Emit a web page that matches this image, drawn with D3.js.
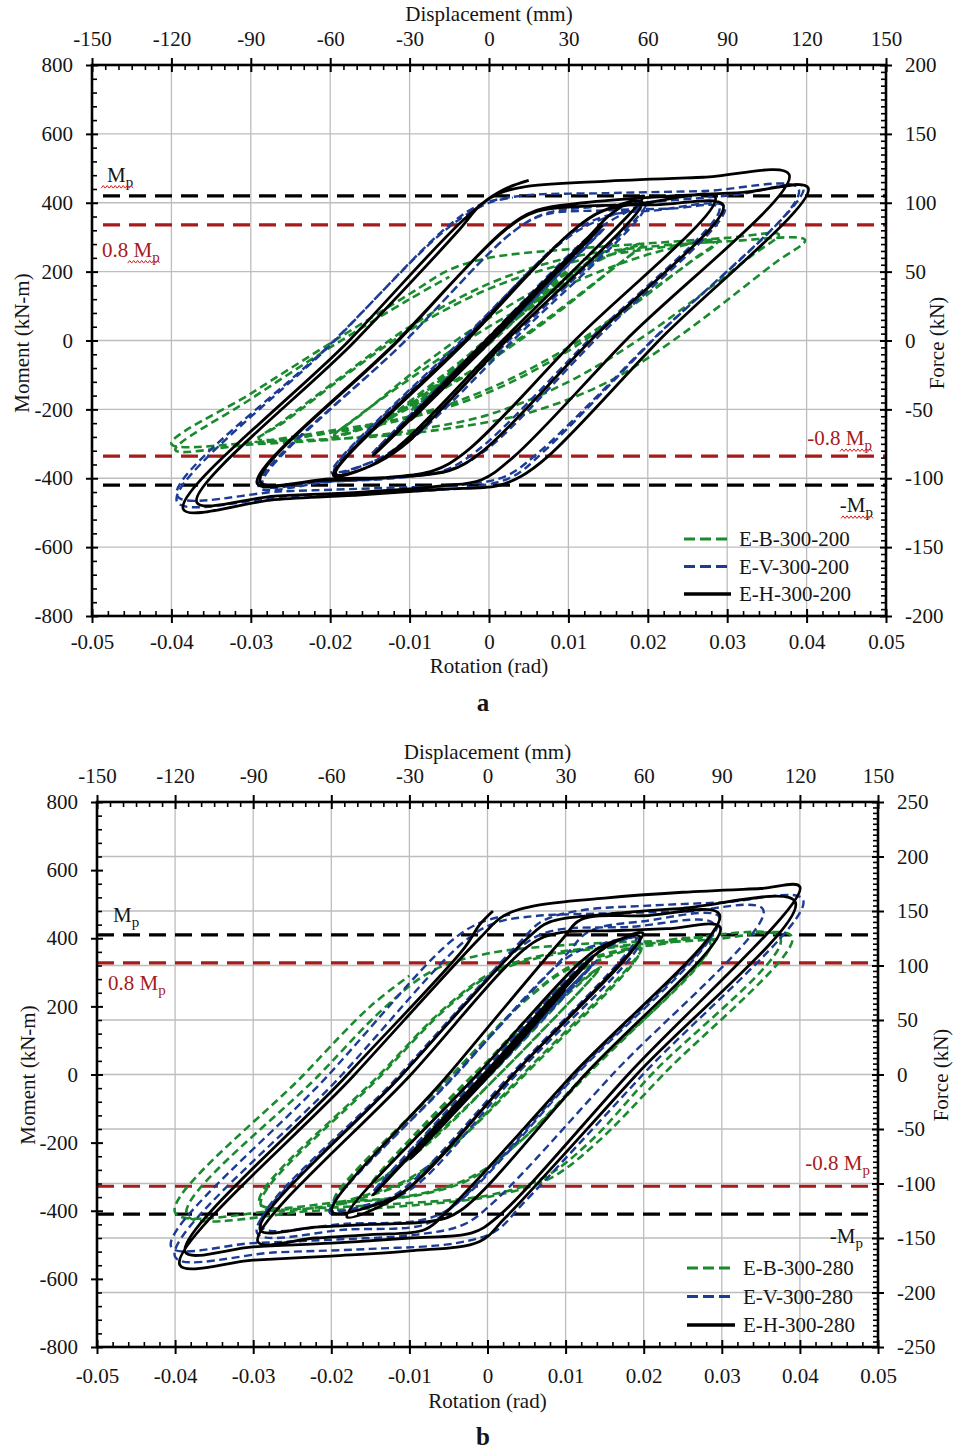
<!DOCTYPE html>
<html><head><meta charset="utf-8">
<script src="https://cdn.jsdelivr.net/npm/d3@7"></script>
<style>
body{margin:0;background:#fff}
svg text{font-family:"Liberation Serif","Times New Roman",serif;fill:#151515}
</style>
</head><body>
<svg id="c" width="960" height="1450"></svg>
<script>
// ---------- tick labels / categories ----------
const rotTicks=[-0.05,-0.04,-0.03,-0.02,-0.01,0,0.01,0.02,0.03,0.04,0.05];
const dispTicks=[-150,-120,-90,-60,-30,0,30,60,90,120,150];
const momentTicks=[-800,-600,-400,-200,0,200,400,600,800];
const forceTicksA=[-200,-150,-100,-50,0,50,100,150,200];
const forceTicksB=[-250,-200,-150,-100,-50,0,50,100,150,200,250];
const namesA=["E-B-300-200","E-V-300-200","E-H-300-200"];
const namesB=["E-B-300-280","E-V-300-280","E-H-300-280"];
const MpA=420, MpB=410;

// ---------- series (rotation rad, moment kN-m) ----------
const aBlack=[
[0,0],[0.005,118],[0.0003,4],[-0.005,-116],[-0.0003,-4],
[0.0075,176],[0.0005,8],[-0.0075,-175],[-0.0005,-8],
[0.0099,234],[0.0008,12],[-0.0099,-232],[-0.0008,-12],
[0.0142,332],[0.0003,4],[-0.0146,-334],[-0.0004,-6],
[0.014,330],[0.0004,6],[-0.0145,-332],
[-0.0004,0],[0.0125,300],[0.0155,370],[0.0195,420],
[0.0017,0],[-0.0115,-310],[-0.0155,-370],[-0.0196,-392],
[-0.003,0],[0.0105,318],[0.0145,378],[0.0193,402],
[0.0022,0],[-0.011,-310],[-0.015,-365],[-0.0193,-388],
[-0.0028,0],[0.0105,318],[0.0145,378],[0.020,400],[0.0285,416],
[0.0108,0],[-0.003,-325],[-0.007,-378],[-0.013,-398],[-0.021,-406],[-0.0292,-415],
[-0.0115,0],[0.002,320],[0.006,375],[0.012,390],[0.021,394],[0.0295,393],
[0.0128,0],[-0.001,-325],[-0.005,-378],[-0.011,-395],[-0.020,-402],[-0.0288,-410],
[-0.0114,0],[0.002,322],[0.006,378],[0.012,400],[0.022,418],[0.032,430],[0.0402,443],
[0.0214,0],[0.0075,-335],[0.004,-395],[0.001,-422],[-0.006,-432],[-0.016,-448],[-0.027,-462],[-0.0385,-490],
[-0.0176,0],[-0.003,355],[0.001,425],[0.005,448],[0.015,463],[0.027,474],[0.0378,482],
[0.0172,0],[0.003,-340],[-0.001,-405],[-0.006,-422],[-0.016,-440],[-0.027,-452],[-0.0368,-470],
[-0.0168,0],[-0.004,315],[-0.001,395],[0.002,440],[0.005,465]
];
const aBlue=[
[0,0],[0.005,115],[0.0002,3],[-0.005,-113],[-0.0002,-3],
[0.0075,172],[0.0004,6],[-0.0075,-170],[-0.0004,-6],
[0.0099,228],[0.0006,10],[-0.0099,-226],[-0.0006,-10],
[0.0145,325],[0.0008,10],[-0.0148,-330],[-0.0006,-4],
[0.0143,322],[0.0005,6],[-0.0146,-326],
[-0.0005,0],[0.012,290],[0.0155,350],[0.0197,392],
[0.0025,0],[-0.011,-300],[-0.015,-355],[-0.0198,-385],
[-0.0035,0],[0.010,300],[0.0145,355],[0.0195,385],
[0.003,0],[-0.0105,-300],[-0.0145,-350],[-0.0195,-380],
[-0.0033,0],[0.010,305],[0.0145,360],[0.021,378],[0.0297,388],
[0.0133,0],[-0.0005,-320],[-0.005,-375],[-0.012,-400],[-0.020,-410],[-0.029,-425],
[-0.0105,0],[0.003,315],[0.007,365],[0.015,378],[0.023,383],[0.029,385],
[0.0125,0],[-0.0015,-320],[-0.006,-380],[-0.013,-400],[-0.021,-410],[-0.0285,-418],
[-0.0105,0],[0.003,315],[0.007,368],[0.013,388],[0.022,405],[0.031,423],[0.0396,446],
[0.0206,0],[0.007,-320],[0.003,-395],[-0.002,-425],[-0.012,-440],[-0.025,-452],[-0.0393,-468],
[-0.0194,0],[-0.005,335],[-0.001,395],[0.004,420],[0.015,428],[0.027,434],[0.039,440],
[0.0205,0],[0.006,-330],[0.002,-395],[-0.003,-418],[-0.013,-428],[-0.026,-438],[-0.0393,-450],
[-0.0195,0],[-0.005,330],[0.0,400],[0.003,415]
];
const aGreen=[
[0,0],[0.005,110],[0.0003,4],[-0.005,-108],[-0.0003,-4],
[0.0075,160],[0.0006,8],[-0.0075,-158],[-0.0006,-8],
[0.0099,205],[0.0012,14],[-0.0099,-204],[-0.0012,-14],
[0.0145,262],[0.011,200],[0.002,40],[-0.006,-120],[-0.0148,-262],
[-0.011,-200],[-0.002,-40],[0.006,120],[0.0145,258],
[0.011,195],[0.002,35],[-0.006,-125],[-0.0147,-260],
[-0.011,-195],[-0.003,-50],[0.004,80],[0.010,180],[0.015,245],[0.0195,282],
[0.0165,225],[0.008,70],[0.0,-60],[-0.008,-170],[-0.014,-240],[-0.0198,-280],
[-0.0165,-222],[-0.008,-65],[0.0,65],[0.008,172],[0.014,238],[0.0193,276],
[0.0162,220],[0.008,75],[0.0,-55],[-0.008,-165],[-0.014,-235],[-0.0195,-276],
[-0.0165,-220],[-0.008,-80],[0.0,40],[0.008,140],[0.015,210],[0.022,262],[0.029,292],
[0.026,240],[0.018,100],[0.010,-30],[0.0,-150],[-0.010,-225],[-0.020,-268],[-0.0295,-292],
[-0.026,-240],[-0.018,-100],[-0.010,30],[0.0,150],[0.010,225],[0.020,265],[0.0285,282],
[0.0255,230],[0.018,105],[0.010,-20],[0.0,-140],[-0.010,-220],[-0.020,-262],[-0.029,-286],
[-0.026,-235],[-0.018,-95],[-0.010,40],[0.0,165],[0.010,240],[0.020,272],[0.030,288],[0.0398,292],
[0.036,225],[0.0232,0],[0.015,-120],[0.005,-210],[-0.005,-255],[-0.015,-280],[-0.027,-292],[-0.040,-300],
[-0.030,-154],[-0.020,-8],[-0.010,135],[-0.005,205],[0.0,240],[0.010,265],[0.020,282],[0.030,298],[0.0365,308],
[0.033,245],[0.020,20],[0.010,-120],[0.0,-215],[-0.010,-262],[-0.020,-288],[-0.030,-302],[-0.0395,-318],
[-0.030,-170],[-0.020,-20],[-0.010,120],[-0.005,185]
];
const bBlack=[
[0,0],[0.005,128],[0.0003,4],[-0.005,-126],[-0.0003,-4],
[0.0075,192],[0.0005,8],[-0.0075,-190],[-0.0005,-8],
[0.0099,250],[0.0008,12],[-0.0099,-248],[-0.0008,-12],
[0.0135,345],[-0.0003,0],[-0.0147,-355],[-0.0005,0],
[0.0133,340],[-0.0002,0],[-0.0145,-350],
[-0.0005,0],[0.0127,330],[0.016,385],[0.0199,415],
[0.0033,0],[-0.0099,-330],[-0.014,-390],[-0.018,-418],
[-0.0013,0],[0.0119,330],[0.015,380],[0.0195,405],
[0.0033,0],[-0.0099,-330],[-0.014,-380],[-0.0199,-403],
[-0.005,0],[0.0095,395],[0.012,455],[0.02,466],[0.0297,470],
[0.0109,0],[-0.0051,-400],[-0.008,-455],[-0.015,-470],[-0.022,-480],[-0.0294,-491],
[-0.0098,0],[0.0054,380],[0.009,415],[0.016,422],[0.023,428],[0.0298,432],
[0.0125,0],[-0.0035,-400],[-0.007,-430],[-0.015,-440],[-0.022,-448],[-0.0291,-456],
[-0.0109,0],[0.0051,400],[0.008,448],[0.015,470],[0.025,488],[0.0394,507],
[0.0191,0],[0.0023,-420],[-0.001,-490],[-0.01,-518],[-0.02,-533],[-0.03,-545],[-0.0394,-559],
[-0.017,0],[-0.001,400],[0.002,465],[0.006,495],[0.015,518],[0.025,535],[0.035,546],[0.040,551],
[0.018,0],[0.0012,-420],[-0.002,-465],[-0.01,-480],[-0.02,-495],[-0.03,-506],[-0.0387,-521],
[-0.0179,0],[-0.003,370],[-0.001,440],[0.0007,480]
];
const bBlue=[
[0,0],[0.005,125],[0.0003,4],[-0.005,-123],[-0.0003,-4],
[0.0075,188],[0.0005,8],[-0.0075,-186],[-0.0005,-8],
[0.0099,245],[0.0008,12],[-0.0099,-243],[-0.0008,-12],
[0.014,335],[0.0006,5],[-0.0147,-345],[-0.0005,-5],
[0.0138,330],[0.0004,4],[-0.0145,-340],
[-0.0009,0],[0.012,320],[0.015,370],[0.019,401],
[0.003,0],[-0.011,-340],[-0.015,-385],[-0.0202,-406],
[-0.004,0],[0.010,340],[0.014,380],[0.0195,395],
[0.0037,0],[-0.010,-340],[-0.015,-380],[-0.020,-398],
[-0.0041,0],[0.010,350],[0.013,420],[0.02,450],[0.0297,462],
[0.0112,0],[-0.004,-380],[-0.008,-440],[-0.018,-455],[-0.0295,-465],
[-0.0109,0],[0.004,370],[0.008,420],[0.018,433],[0.029,440],
[0.0114,0],[-0.004,-380],[-0.008,-425],[-0.018,-438],[-0.029,-445],
[-0.0112,0],[0.004,385],[0.007,450],[0.012,482],[0.02,495],[0.03,505],[0.0404,513],
[0.0199,0],[0.0045,-380],[0.001,-460],[-0.004,-495],[-0.015,-512],[-0.027,-522],[-0.040,-535],
[-0.0186,0],[-0.003,390],[0.001,445],[0.006,465],[0.015,473],[0.025,478],[0.0353,484],
[0.016,0],[0.001,-370],[-0.003,-440],[-0.009,-470],[-0.02,-485],[-0.030,-495],[-0.0405,-506],
[-0.0203,0],[-0.005,385],[-0.001,445],[0.003,470]
];
const bGreen=[
[0,0],[0.005,120],[0.0003,4],[-0.005,-118],[-0.0003,-4],
[0.0075,178],[0.0006,10],[-0.0075,-176],[-0.0006,-10],
[0.0099,230],[0.001,14],[-0.0099,-228],[-0.001,-14],
[0.008,190],[0.0145,315],
[0.0015,0],[-0.008,-210],[-0.0148,-320],
[-0.0018,0],[0.008,200],[0.0143,312],
[0.0015,0],[-0.009,-225],[-0.0146,-318],
[-0.0016,0],[0.008,230],[0.013,320],[0.0165,355],[0.0197,372],
[0.0045,0],[-0.004,-200],[-0.010,-310],[-0.015,-355],[-0.0197,-377],
[-0.0045,0],[0.004,200],[0.010,305],[0.015,350],[0.0195,366],
[0.0048,0],[-0.004,-200],[-0.010,-305],[-0.015,-350],[-0.0196,-370],
[-0.0045,0],[0.004,200],[0.010,310],[0.016,360],[0.022,382],[0.0288,396],
[0.0128,0],[0.004,-200],[-0.002,-305],[-0.008,-350],[-0.016,-372],[-0.029,-385],
[-0.0135,0],[-0.005,200],[0.001,300],[0.008,350],[0.017,375],[0.0285,388],
[0.0125,0],[0.004,-200],[-0.002,-300],[-0.009,-352],[-0.018,-372],[-0.0292,-378],
[-0.0138,0],[-0.005,205],[0.001,305],[0.008,355],[0.017,378],[0.028,395],[0.039,404],
[0.0225,0],[0.014,-200],[0.008,-305],[0.001,-355],[-0.010,-385],[-0.022,-400],[-0.0385,-412],
[-0.0215,0],[-0.013,200],[-0.007,305],[0.0,355],[0.010,380],[0.022,392],[0.0375,400],
[0.021,0],[0.013,-200],[0.007,-305],[0.0,-355],[-0.012,-380],[-0.025,-395],[-0.040,-405],
[-0.0235,0],[-0.015,200],[-0.010,290]
];

// ---------- styles ----------
const seriesStyle=[
  {color:"#1a8a2e",width:2.6,dash:"8,4.5"},
  {color:"#1c3c94",width:2.4,dash:"8,4.5"},
  {color:"#000000",width:2.8,dash:null}
];
const RED="#a61b1b";

const svg=d3.select("#c");

const panels=[
 {x0:92,x1:886,y0:65,y1:616,fmax:200,fTicks:forceTicksA,Mp:MpA,data:[aGreen,aBlue,aBlack],names:namesA,
  topBase:19,botOff:18,dispTitleY:21,rotTitleY:673,momX:22,forceX:937,titleCY:343,
  refStart:103,lgX0:684,lgX1:731,lgY:539,lgDy:27.5,letter:"a",letterY:711,wavy:true,
  lab:{mp:[15,-14],m08:[10,32],n08:[-14,-11],nmp:[-13,27]}},
 {x0:97,x1:878,y0:802,y1:1347,fmax:250,fTicks:forceTicksB,Mp:MpB,data:[bGreen,bBlue,bBlack],names:namesB,
  topBase:19,botOff:21,dispTitleY:759,rotTitleY:1408,momX:28,forceX:941,titleCY:1075,
  refStart:97,lgX0:687,lgX1:735,lgY:1268,lgDy:28.5,letter:"b",letterY:1445,wavy:false,
  lab:{mp:[16,-13],m08:[11,27],n08:[-8,-16],nmp:[-15,29]}}
];

function styleAxis(sel,fs){
  sel.attr("font-family",null).attr("font-size",null);
  sel.select(".domain").remove();
  sel.selectAll("line").attr("stroke","#000").attr("stroke-width",2);
  sel.selectAll("text").style("font-size",fs+"px").attr("fill","#151515");
}
function minorAxis(g,axisFn,scale,vals,size,tx,ty){
  g.append("g").attr("transform",`translate(${tx},${ty})`)
   .call(axisFn(scale).tickValues(vals).tickSize(size).tickFormat(""))
   .call(s=>{s.select(".domain").remove();s.selectAll("line").attr("stroke","#000").attr("stroke-width",1.6);});
}

panels.forEach((p,pi)=>{
  const g=svg.append("g");
  const x=d3.scaleLinear().domain([-0.05,0.05]).range([p.x0,p.x1]);
  const y=d3.scaleLinear().domain([-800,800]).range([p.y1,p.y0]);
  const xt=d3.scaleLinear().domain([-150,150]).range([p.x0,p.x1]);
  const yr=d3.scaleLinear().domain([-p.fmax,p.fmax]).range([p.y1,p.y0]);

  // grid
  const gg=g.append("g").attr("stroke","#bdbdbd").attr("stroke-width",1.3);
  rotTicks.slice(1,-1).forEach(t=>gg.append("line").attr("x1",x(t)).attr("x2",x(t)).attr("y1",p.y0).attr("y2",p.y1));
  p.fTicks.slice(1,-1).forEach(t=>gg.append("line").attr("x1",p.x0).attr("x2",p.x1).attr("y1",yr(t)).attr("y2",yr(t)));

  // reference lines
  const refs=[[p.Mp,"#000"],[0.8*p.Mp,RED],[-0.8*p.Mp,RED],[-p.Mp,"#000"]];
  refs.forEach(r=>g.append("line").attr("x1",p.refStart).attr("x2",p.x1).attr("y1",y(r[0])).attr("y2",y(r[0]))
     .attr("stroke",r[1]).attr("stroke-width",3.2).attr("stroke-dasharray","17,9"));

  // series
  const clipId="clip"+pi;
  svg.append("defs").append("clipPath").attr("id",clipId).append("rect")
     .attr("x",p.x0).attr("y",p.y0).attr("width",p.x1-p.x0).attr("height",p.y1-p.y0);
  const line=d3.line().x(d=>x(d[0])).y(d=>y(d[1])).curve(d3.curveCatmullRom.alpha(0.5));
  const dg=g.append("g").attr("clip-path",`url(#${clipId})`);
  p.data.forEach((s,i)=>{
    const st=seriesStyle[i];
    dg.append("path").attr("d",line(s)).attr("fill","none").attr("stroke",st.color)
      .attr("stroke-width",st.width).attr("stroke-dasharray",st.dash).attr("stroke-linejoin","round");
  });

  // frame
  g.append("rect").attr("x",p.x0).attr("y",p.y0).attr("width",p.x1-p.x0).attr("height",p.y1-p.y0)
   .attr("fill","none").attr("stroke","#000").attr("stroke-width",2.6);

  const FS=21;
  // left axis
  g.append("g").attr("transform",`translate(${p.x0},0)`)
   .call(d3.axisLeft(y).tickValues(momentTicks).tickSize(6).tickPadding(13).tickFormat(d=>String(d))).call(s=>styleAxis(s,FS));
  g.append("g").attr("transform",`translate(${p.x0},0)`)
   .call(d3.axisRight(y).tickValues(momentTicks).tickSize(6).tickFormat("")).call(s=>styleAxis(s,FS));
  minorAxis(g,d3.axisRight,y,d3.range(-20,21).map(i=>i*40).filter(v=>v%200!==0),5,p.x0,0);
  // right axis
  g.append("g").attr("transform",`translate(${p.x1},0)`)
   .call(d3.axisRight(yr).tickValues(p.fTicks).tickSize(6).tickPadding(13).tickFormat(d=>String(d))).call(s=>styleAxis(s,FS));
  g.append("g").attr("transform",`translate(${p.x1},0)`)
   .call(d3.axisLeft(yr).tickValues(p.fTicks).tickSize(6).tickFormat("")).call(s=>styleAxis(s,FS));
  minorAxis(g,d3.axisLeft,yr,d3.range(-p.fmax/5,p.fmax/5+1).map(i=>i*5).filter(v=>v%50!==0),5,p.x1,0);
  // bottom axis
  g.append("g").attr("transform",`translate(0,${p.y1})`)
   .call(d3.axisBottom(x).tickValues(rotTicks).tickSize(7).tickPadding(p.botOff-7).tickFormat(d=>String(d))).call(s=>styleAxis(s,FS));
  g.append("g").attr("transform",`translate(0,${p.y1})`)
   .call(d3.axisTop(x).tickValues(rotTicks).tickSize(7).tickFormat("")).call(s=>styleAxis(s,FS));
  minorAxis(g,d3.axisTop,x,d3.range(-25,26).filter(i=>i%5!==0).map(i=>i*0.002),5,0,p.y1);
  // top axis
  g.append("g").attr("transform",`translate(0,${p.y0})`)
   .call(d3.axisTop(xt).tickValues(dispTicks).tickSize(7).tickPadding(p.topBase-7).tickFormat(d=>String(d))).call(s=>styleAxis(s,FS));
  g.append("g").attr("transform",`translate(0,${p.y0})`)
   .call(d3.axisBottom(xt).tickValues(dispTicks).tickSize(7).tickFormat("")).call(s=>styleAxis(s,FS));
  minorAxis(g,d3.axisBottom,xt,d3.range(-30,31).filter(i=>i%6!==0).map(i=>i*5),5,0,p.y0);

  // titles
  const cx=(p.x0+p.x1)/2;
  g.append("text").attr("x",cx).attr("y",p.dispTitleY).attr("text-anchor","middle").style("font-size","21px").text("Displacement (mm)");
  g.append("text").attr("x",cx).attr("y",p.rotTitleY).attr("text-anchor","middle").style("font-size","21px").text("Rotation (rad)");
  g.append("text").attr("transform",`translate(${p.momX},${p.titleCY}) rotate(-90)`).attr("text-anchor","middle")
   .attr("dominant-baseline","central").style("font-size","21px").text("Moment (kN-m)");
  g.append("text").attr("transform",`translate(${p.forceX},${p.titleCY}) rotate(-90)`).attr("text-anchor","middle")
   .attr("dominant-baseline","central").style("font-size","21px").text("Force (kN)");
  g.append("text").attr("x",483).attr("y",p.letterY).attr("text-anchor","middle").style("font-size","25px")
   .style("font-weight","bold").text(p.letter);

  // Mp labels
  function mpLabel(prefix,val,off,anchor,color){
    const tx=anchor==="start"?p.x0+off[0]:p.x1+off[0];
    const ty=y(val)+off[1];
    const t=g.append("text").attr("x",tx).attr("y",ty).attr("text-anchor",anchor).style("font-size","21px").style("fill",color);
    t.append("tspan").text(prefix+"M");
    t.append("tspan").style("font-size","15px").attr("dy",5).text("p");
    if(p.wavy){
      const bb=t.node().getBBox();
      const xe=bb.x+bb.width, xs=xe-32, yy=ty+5;
      const pts=d3.range(0,17).map(i=>[xs+i*2,yy+(i%2?-1.3:1.3)]);
      g.append("path").attr("d",d3.line()(pts)).attr("fill","none").attr("stroke","#d42020").attr("stroke-width",1);
    }
  }
  mpLabel("",p.Mp,p.lab.mp,"start","#151515");
  mpLabel("0.8 ",0.8*p.Mp,p.lab.m08,"start",RED);
  mpLabel("-0.8 ",-0.8*p.Mp,p.lab.n08,"end",RED);
  mpLabel("-",-p.Mp,p.lab.nmp,"end","#151515");

  // legend
  p.names.forEach((n,i)=>{
    const st=seriesStyle[i];
    const ly=p.lgY+i*p.lgDy;
    g.append("line").attr("x1",p.lgX0).attr("x2",p.lgX1).attr("y1",ly).attr("y2",ly)
     .attr("stroke",st.color).attr("stroke-width",i===2?3.4:3).attr("stroke-dasharray",st.dash?"11,5":null);
    g.append("text").attr("x",p.lgX1+8).attr("y",ly).attr("dominant-baseline","central").style("font-size","21px").text(n);
  });
});
</script>
</body></html>
